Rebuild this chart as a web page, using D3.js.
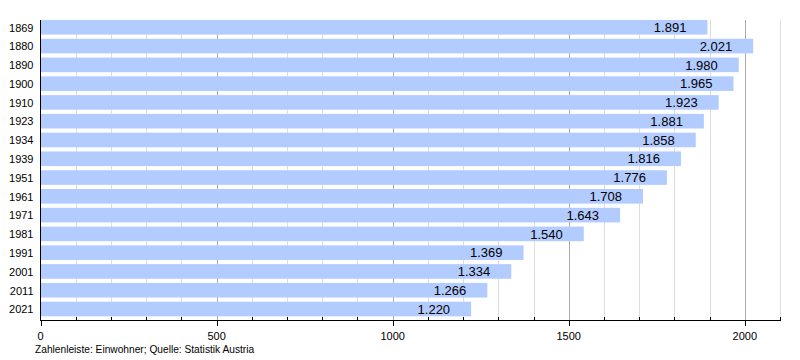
<!DOCTYPE html>
<html><head><meta charset="utf-8">
<script src="https://cdn.jsdelivr.net/npm/d3@7"></script>
<style>
html,body{margin:0;padding:0;background:#fff;}
svg{display:block;font-family:"Liberation Sans",Arial,sans-serif;}
</style></head>
<body>
<svg id="chart" width="800" height="360"></svg>
<script>
const years = ["1869","1880","1890","1900","1910","1923","1934","1939","1951","1961","1971","1981","1991","2001","2011","2021"];
const population = [1891,2021,1980,1965,1923,1881,1858,1816,1776,1708,1643,1540,1369,1334,1266,1220];
const majorTicks = [0,500,1000,1500,2000];
const minorTicks = [100,200,300,400,600,700,800,900,1100,1200,1300,1400,1600,1700,1800,1900,2100];
const footer = "Zahlenleiste: Einwohner; Quelle: Statistik Austria";

const svg = d3.select("#chart");
const x = d3.scaleLinear().domain([0,2100]).range([40.5,780]);
const y = d3.scaleBand().domain(years).range([17.9,318.4]).paddingInner(0.222).paddingOuter(0.111);
const plotTop = 20, plotBottom = 320;
const fmt = v => d3.format(",")(v).replace(/,/g,".");

// gridlines
svg.append("g").selectAll("line").data(minorTicks).join("line")
  .attr("x1",d=>Math.round(x(d))+0.5).attr("x2",d=>Math.round(x(d))+0.5)
  .attr("y1",plotTop).attr("y2",plotBottom).attr("stroke","#dddddd");
svg.append("g").selectAll("line").data(majorTicks.filter(d=>d>0)).join("line")
  .attr("x1",d=>Math.round(x(d))+0.5).attr("x2",d=>Math.round(x(d))+0.5)
  .attr("y1",plotTop).attr("y2",plotBottom).attr("stroke","#aaaaaa");

// bars
svg.append("g").selectAll("rect").data(population).join("rect")
  .attr("x",x(0)).attr("y",(d,i)=>y(years[i]))
  .attr("width",d=>x(d)-x(0)+1).attr("height",y.bandwidth())
  .attr("fill","#b3ccff");

// value labels
svg.append("g").selectAll("text").data(population).join("text")
  .attr("x",d=>x(d)-20).attr("y",(d,i)=>y(years[i])+y.bandwidth()/2+4.7)
  .attr("text-anchor","end").attr("font-size",13).attr("fill","#000")
  .text(d=>fmt(d));

// year labels
svg.append("g").selectAll("text").data(years).join("text")
  .attr("x",33.5).attr("y",d=>y(d)+y.bandwidth()/2+4.3)
  .attr("text-anchor","end").attr("font-size",11).attr("fill","#000")
  .text(d=>d);

// axes lines
svg.append("line").attr("x1",40.5).attr("x2",40.5).attr("y1",plotTop).attr("y2",plotBottom).attr("stroke","#000");
svg.append("line").attr("x1",40).attr("x2",780.5).attr("y1",plotBottom+0.5).attr("y2",plotBottom+0.5).attr("stroke","#000");

// ticks
svg.append("g").selectAll("line").data(majorTicks).join("line")
  .attr("x1",d=>Math.round(x(d))+0.5).attr("x2",d=>Math.round(x(d))+0.5)
  .attr("y1",plotBottom).attr("y2",plotBottom+6).attr("stroke","#000");
svg.append("g").selectAll("line").data(minorTicks).join("line")
  .attr("x1",d=>Math.round(x(d))+0.5).attr("x2",d=>Math.round(x(d))+0.5)
  .attr("y1",plotBottom-3).attr("y2",plotBottom+1).attr("stroke","#000");
svg.append("g").selectAll("text").data(majorTicks).join("text")
  .attr("x",d=>x(d)).attr("y",339.5).attr("text-anchor","middle")
  .attr("font-size",11).attr("fill","#000").text(d=>d);

svg.append("text").attr("x",35).attr("y",352.5).attr("font-size",10.2).attr("fill","#000").text(footer);
</script>
</body></html>
